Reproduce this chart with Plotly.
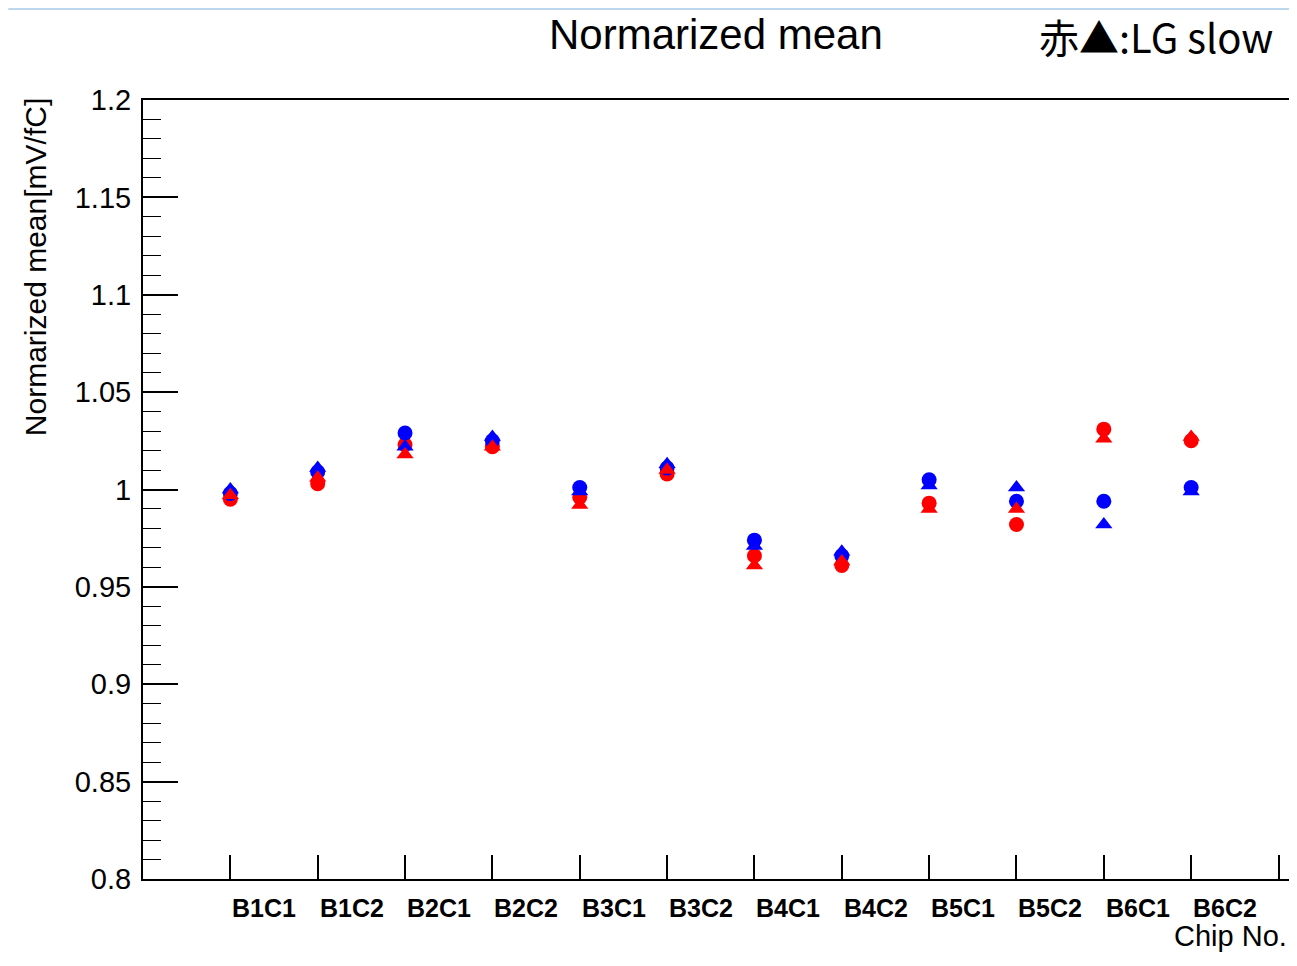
import plotly.graph_objects as go

chips = ["B1C1", "B1C2", "B2C1", "B2C2", "B3C1", "B3C2",
         "B4C1", "B4C2", "B5C1", "B5C2", "B6C1", "B6C2"]
xpos = list(range(1, len(chips) + 1))

blue_circle = [0.998, 1.009, 1.029, 1.025, 1.001, 1.011, 0.974, 0.966, 1.005, 0.994, 0.994, 1.001]
blue_tri    = [1.000, 1.011, 1.022, 1.027, 0.999, 1.013, 0.971, 0.968, 1.002, 1.001, 0.982, 0.999]
red_circle  = [0.995, 1.003, 1.023, 1.022, 0.996, 1.008, 0.966, 0.961, 0.993, 0.982, 1.031, 1.025]
red_tri     = [0.997, 1.006, 1.018, 1.022, 0.992, 1.010, 0.961, 0.963, 0.990, 0.990, 1.026, 1.027]

ytick_vals = [0.8, 0.85, 0.9, 0.95, 1.0, 1.05, 1.1, 1.15, 1.2]
ytick_text = ["0.8", "0.85", "0.9", "0.95", "1", "1.05", "1.1", "1.15", "1.2"]

# page is rendered with an 8px body margin
OFF = 8
W, H = 1289, 950
L, R, T, B = 143, 1291, 100, 879   # plot area in page pixels
pw, ph = R - L, B - T

def px_x(p):
    return (p - L) / pw

def px_y(p):
    return (B - p) / ph

fig = go.Figure()
series = [
    (red_circle, "red", "circle", "red circle"),
    (blue_circle, "blue", "circle", "blue circle"),
    (blue_tri, "blue", "triangle-up", "blue triangle"),
    (red_tri, "red", "triangle-up", "red triangle"),
]
for vals, col, sym, name in series:
    fig.add_trace(go.Scatter(
        x=xpos, y=vals, mode="markers", name=name,
        marker=dict(color=col, symbol=sym, size=15, line=dict(width=0)),
        showlegend=False))

font_main = "Liberation Sans, Arial, Helvetica, sans-serif"

fig.update_layout(
    width=W, height=H,
    margin=dict(l=L - OFF, r=W - (R - OFF), t=T - OFF, b=H - (B - OFF), pad=0),
    paper_bgcolor="white", plot_bgcolor="white",
    xaxis=dict(range=[0, 13.12], tickvals=list(range(1, 14)), showticklabels=False,
               ticks="inside", ticklen=24, tickwidth=1.5, tickcolor="black",
               showgrid=False, zeroline=False, showline=True, mirror=True,
               linecolor="black", linewidth=2),
    yaxis=dict(range=[0.8, 1.2], tickvals=ytick_vals, ticktext=ytick_text,
               ticks="inside", ticklen=35, tickwidth=1.5, tickcolor="black",
               minor=dict(dtick=0.01, ticks="inside", ticklen=18, tickwidth=1.2,
                          tickcolor="black", showgrid=False),
               tickfont=dict(family=font_main, size=29, color="black"),
               ticklabelstandoff=4,
               showgrid=False, zeroline=False, showline=True, mirror=True,
               linecolor="black", linewidth=2),
)

annotations = []
for x, lab in zip(xpos, chips):
    annotations.append(dict(x=x, y=px_y(908), xref="x", yref="paper", text="<b>" + lab + "</b>",
                            showarrow=False, xanchor="left", yanchor="middle",
                            font=dict(family=font_main, size=25, color="black")))
annotations.append(dict(x=px_x(1291), y=px_y(936), xref="paper", yref="paper", text="Chip No.",
                        showarrow=False, xanchor="right", yanchor="middle",
                        font=dict(family=font_main, size=29, color="black")))
annotations.append(dict(x=px_x(36), y=px_y(96), xref="paper", yref="paper",
                        text="Normarized mean[mV/fC]", textangle=-90,
                        showarrow=False, xanchor="center", yanchor="top",
                        font=dict(family=font_main, size=30, color="black")))
annotations.append(dict(x=px_x(717), y=px_y(35), xref="paper", yref="paper",
                        text="Normarized mean", showarrow=False,
                        xanchor="center", yanchor="middle",
                        font=dict(family=font_main, size=42, color="black")))
annotations.append(dict(x=px_x(1277), y=px_y(36), xref="paper", yref="paper",
                        text="赤▲:LG slow", showarrow=False,
                        xanchor="right", yanchor="middle",
                        font=dict(family="Noto Sans CJK JP, Noto Sans, sans-serif", size=40, color="black")))
fig.update_layout(annotations=annotations)

fig.add_shape(type="line", xref="paper", yref="paper",
              x0=px_x(OFF), x1=px_x(OFF + W), y0=px_y(OFF + 1), y1=px_y(OFF + 1),
              line=dict(color="#BDD7EE", width=2))

fig.write_html("out.html")
